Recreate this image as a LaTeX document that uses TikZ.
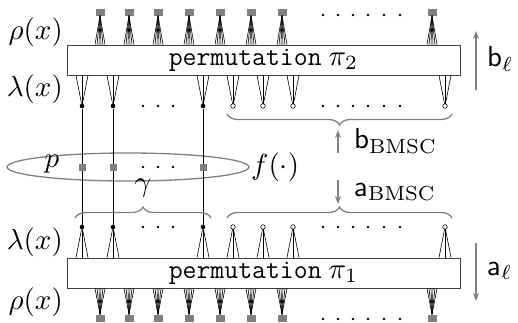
\documentclass[tikz,border=0pt]{standalone}
\usepackage{graphicx}
\usetikzlibrary{calc,decorations.pathreplacing,arrows.meta}
\newcommand{\scmath}[1]{\scalebox{2.9}{$#1$}}
\begin{document}
\begin{tikzpicture}[x=1pt,y=-1pt,
  chk/.style={fill=gray, minimum width=9pt, minimum height=7pt, inner sep=0pt, draw=none},
  vfill/.style={circle, fill=black, minimum size=4.6pt, inner sep=0pt},
  vopen/.style={circle, draw=black, fill=white, minimum size=4.6pt, inner sep=0pt, line width=0.6pt},
  edge/.style={line width=0.6pt},
  permbox/.style={draw=black!75, line width=0.9pt, fill=white, minimum width=393pt, minimum height=30pt, inner sep=0pt, font=\fontsize{10}{12}\selectfont},
  lab/.style={font=\fontsize{10}{12}\selectfont, inner sep=0pt},
  gline/.style={draw=gray, line width=1.3pt},
  garrow/.style={gray, line width=1.3pt, -{Stealth[length=8pt,width=6pt]}},
  brc/.style={gray, line width=1.3pt, decorate, decoration={brace, amplitude=11pt}},
]
\useasboundingbox (0,0) rectangle (518,322);

% boxes
\node[permbox] (boxT) at (263.5,60) {{\fontsize{27}{30}\selectfont\texttt{permutation}}\hspace{7pt}\scmath{\pi_2}};
\node[permbox] (boxB) at (263.5,273) {{\fontsize{27}{30}\selectfont\texttt{permutation}}\hspace{7pt}\scmath{\pi_1}};

% check nodes with fans
\foreach \x [count=\i] in {100,129,158,189,220,251,282,432} {
  \node[chk] (ct\i) at (\x,12) {};
  \node[chk] (cb\i) at (\x,318) {};
  \foreach \d in {-5,-3,-1,1,3,5} {
    \draw[edge] (ct\i.south) -- ($(ct\i.south |- boxT.north)+(\d,0)$);
    \draw[edge] (cb\i.north) -- ($(cb\i.north |- boxB.south)+(\d,0)$);
  }
}
\foreach \x in {323,338,353,368,384,400} {
  \fill (\x,15) circle[radius=1.3pt];
  \fill (\x,319) circle[radius=1.3pt];
  \fill (\x,106) circle[radius=1.3pt];
  \fill (\x,227) circle[radius=1.3pt];
}
\foreach \x in {143,158,173} {
  \fill (\x,106) circle[radius=1.3pt];
  \fill (\x,227) circle[radius=1.3pt];
  \fill (\x,167) circle[radius=1.3pt];
}

% ellipse
\draw[gline] (128,167) ellipse [x radius=121pt, y radius=14pt];

% filled variable nodes with vertical lines
\foreach \x [count=\i] in {82,113,203} {
  \node[vfill] (vt\i) at (\x,106) {};
  \node[vfill] (vb\i) at (\x,227) {};
  \draw[line width=0.8pt] (vt\i) -- (vb\i);
  \node[chk, minimum width=7pt, minimum height=7pt] (p\i) at (\x,167) {};
  \foreach \d in {-6,0,6} {
    \draw[edge] (vt\i) -- ($(vt\i |- boxT.south)+(\d,0)$);
    \draw[edge] (vb\i) -- ($(vb\i |- boxB.north)+(\d,0)$);
  }
}
% open variable nodes
\foreach \x [count=\i] in {233,263,293,445} {
  \foreach \d in {-6,0,6} {
    \draw[edge] (\x,106) -- ($(\x,106 |- boxT.south)+(\d,0)$);
    \draw[edge] (\x,227) -- ($(\x,227 |- boxB.north)+(\d,0)$);
  }
  \node[vopen] (ot\i) at (\x,106) {};
  \node[vopen] (ob\i) at (\x,227) {};
}

% braces
\draw[brc] (452,114) -- (227,114);
\draw[brc] (75,218) -- (211,218);
\draw[brc] (227,218) -- (452,218);

% arrows
\coordinate (bs0) at (338,153);
\coordinate (bs1) at (338,130);
\coordinate (as0) at (338,180);
\coordinate (as1) at (338,204);
\draw[garrow] (bs0) -- (bs1);
\draw[garrow] (as0) -- (as1);
\coordinate (bl0) at (476,90);
\coordinate (bl1) at (476,31);
\coordinate (al0) at (476,243);
\coordinate (al1) at (476,301);
\draw[garrow] (bl0) -- (bl1);
\draw[garrow] (al0) -- (al1);

% labels
\node[lab, anchor=east] (rhoT) at (63,32) {\scmath{\rho(x)}};
\node[lab, anchor=east] (lamT) at (63,89) {\scmath{\lambda(x)}};
\node[lab, anchor=east] (lamB) at (63,242) {\scmath{\lambda(x)}};
\node[lab, anchor=east] (rhoB) at (63,302) {\scmath{\rho(x)}};
\node[lab] (plab) at (52,164) {\scmath{p}};
\node[lab] (glab) at (143,188) {\scmath{\gamma}};
\node[lab, anchor=west] (flab) at (251,167) {\scmath{f(\cdot)}};
\node[lab, anchor=west] (bbm) at (354,141) {\scmath{\mathsf{b}_{\mathrm{BMSC}}}};
\node[lab, anchor=west] (abm) at (354,192) {\scmath{\mathsf{a}_{\mathrm{BMSC}}}};
\node[lab, anchor=west] (bl) at (487,59) {\scmath{\mathsf{b}_{\ell}}};
\node[lab, anchor=west] (al) at (487,271) {\scmath{\mathsf{a}_{\ell}}};
\end{tikzpicture}
\end{document}
